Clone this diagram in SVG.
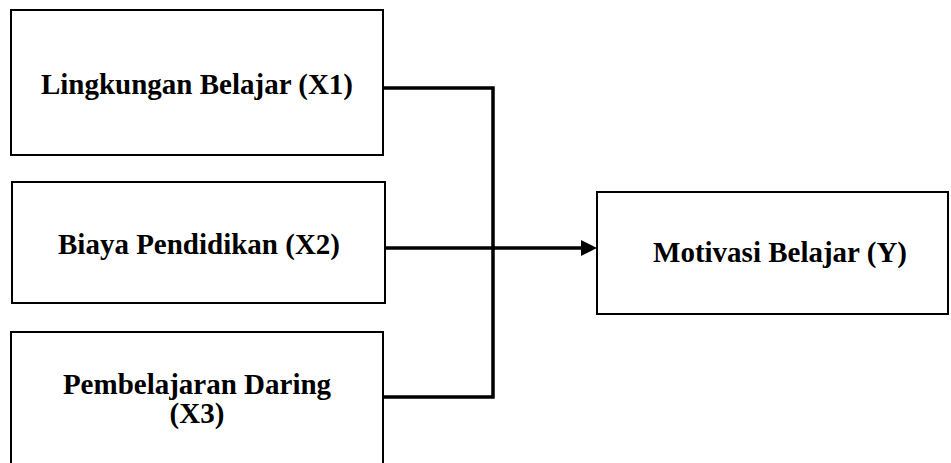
<svg xmlns="http://www.w3.org/2000/svg" width="951" height="463" viewBox="0 0 951 463">
<style>
.box{fill:#fff;stroke:#000;stroke-width:2}
.t{font-family:'Liberation Serif','Times New Roman',serif;font-weight:700;font-size:29px;fill:#000;text-anchor:middle}
.c{fill:none;stroke:#000;stroke-width:3.5}
</style>
<defs>
<marker id="ah" markerWidth="16" markerHeight="16" refX="0" refY="8" orient="auto" markerUnits="userSpaceOnUse">
<path d="M0,0 L16,8 L0,16 z" fill="#000"/>
</marker>
</defs>
<g id="x1"><rect class="box" x="11" y="10" width="372" height="145"/><text class="t" x="197" y="94">Lingkungan Belajar (X1)</text></g>
<g id="x2"><rect class="box" x="12" y="182" width="373" height="121"/><text class="t" x="199" y="254">Biaya Pendidikan (X2)</text></g>
<g id="x3"><rect class="box" x="11" y="332" width="372" height="140"/><text class="t" x="197" y="394">Pembelajaran Daring</text><text class="t" x="197" y="423">(X3)</text></g>
<g id="y"><rect class="box" x="597" y="192" width="351" height="122"/><text class="t" x="780" y="262">Motivasi Belajar (Y)</text></g>
<g id="connectors">
<polyline class="c" points="384,88 493,88 493,397 384,397"/>
<line class="c" x1="386" y1="248" x2="581" y2="248" marker-end="url(#ah)"/>
</g>
</svg>
